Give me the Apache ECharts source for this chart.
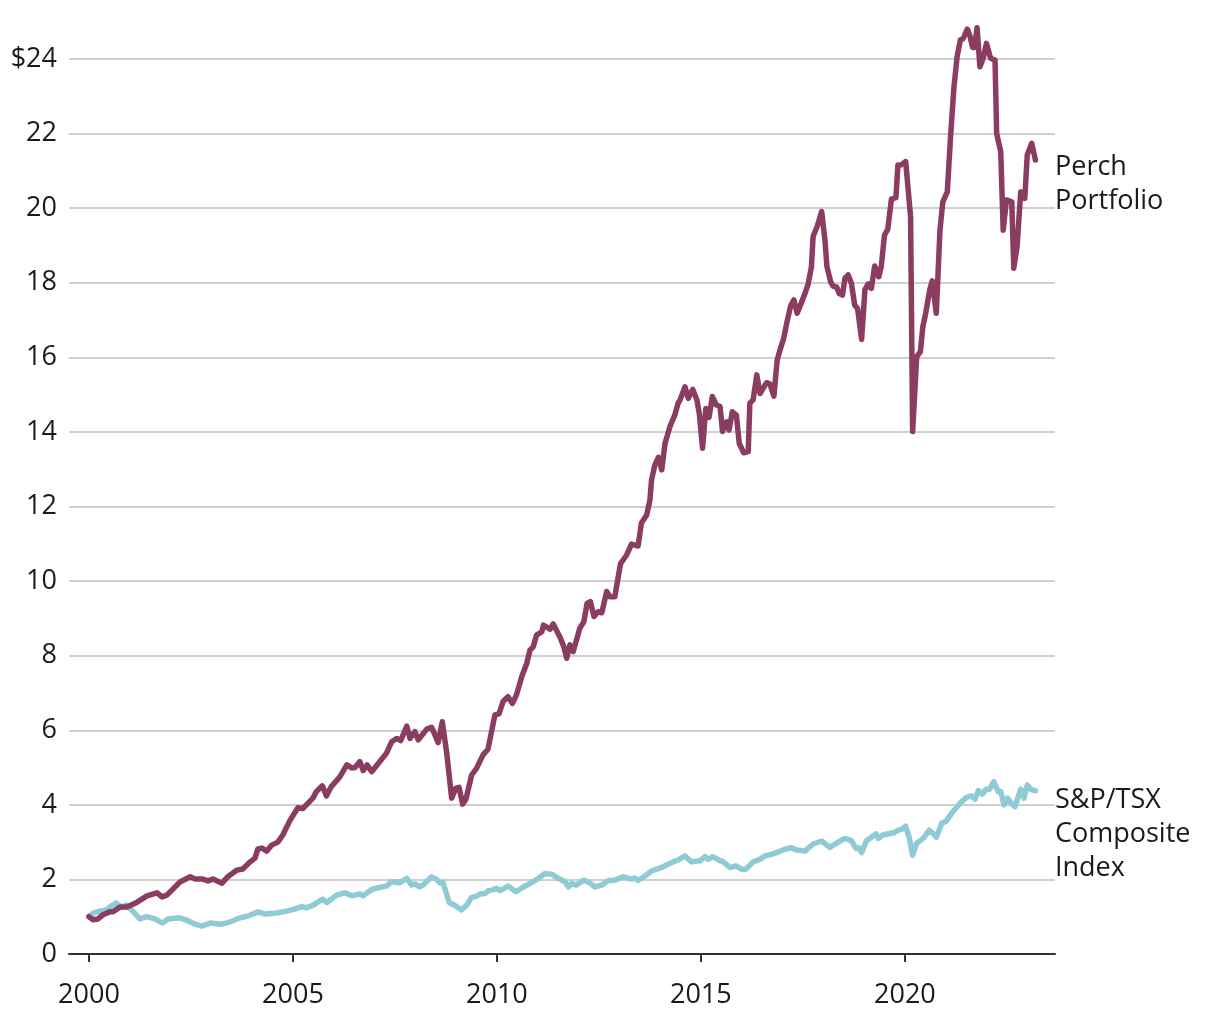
<!DOCTYPE html>
<html>
<head>
<meta charset="utf-8">
<script src="https://cdn.jsdelivr.net/npm/echarts@6/dist/echarts.min.js"></script>
<style>
  html, body { margin: 0; padding: 0; background: #ffffff; }
  #chart { width: 1220px; height: 1020px; }
</style>
</head>
<body>
<div id="chart"></div>
<script>
// Tick labels
const xTickYears = [2000, 2005, 2010, 2015, 2020];
const yTicks = [0, 2, 4, 6, 8, 10, 12, 14, 16, 18, 20, 22, 24];

// Series names
const perchName = 'Perch Portfolio';
const tsxName = 'S&P/TSX Composite Index';

// Growth of $1 — Perch Portfolio (decimal year, value)
const perchYears = [
  2000.00, 2000.10, 2000.22, 2000.34, 2000.51, 2000.59, 2000.76, 2000.93, 2001.18, 2001.42,
  2001.67, 2001.79, 2001.91, 2002.23, 2002.48, 2002.60, 2002.79, 2002.92, 2003.04, 2003.26,
  2003.40, 2003.63, 2003.77, 2003.95, 2004.07, 2004.14, 2004.24, 2004.36, 2004.48, 2004.63,
  2004.75, 2004.93, 2005.12, 2005.24, 2005.49, 2005.57, 2005.72, 2005.82, 2005.94, 2006.15,
  2006.32, 2006.44, 2006.52, 2006.64, 2006.72, 2006.82, 2006.93, 2007.13, 2007.29, 2007.42,
  2007.54, 2007.64, 2007.79, 2007.87, 2007.99, 2008.07, 2008.28, 2008.40, 2008.56, 2008.66,
  2008.77, 2008.89, 2008.99, 2009.07, 2009.16, 2009.24, 2009.38, 2009.50, 2009.66, 2009.78,
  2009.95, 2010.05, 2010.15, 2010.27, 2010.38, 2010.48, 2010.61, 2010.73, 2010.81, 2010.89,
  2010.97, 2011.10, 2011.14, 2011.30, 2011.38, 2011.54, 2011.64, 2011.71, 2011.79, 2011.87,
  2012.03, 2012.13, 2012.21, 2012.29, 2012.38, 2012.48, 2012.57, 2012.69, 2012.77, 2012.89,
  2013.03, 2013.18, 2013.30, 2013.46, 2013.54, 2013.67, 2013.75, 2013.79, 2013.87, 2013.96,
  2014.04, 2014.12, 2014.24, 2014.36, 2014.44, 2014.49, 2014.61, 2014.69, 2014.80, 2014.90,
  2014.96, 2015.04, 2015.12, 2015.20, 2015.28, 2015.38, 2015.47, 2015.53, 2015.63, 2015.69,
  2015.77, 2015.87, 2015.94, 2016.05, 2016.16, 2016.20, 2016.28, 2016.37, 2016.45, 2016.61,
  2016.69, 2016.79, 2016.87, 2016.94, 2017.03, 2017.12, 2017.20, 2017.28, 2017.36, 2017.44,
  2017.55, 2017.63, 2017.71, 2017.75, 2017.85, 2017.96, 2018.04, 2018.09, 2018.18, 2018.24,
  2018.33, 2018.39, 2018.47, 2018.53, 2018.61, 2018.69, 2018.77, 2018.84, 2018.94, 2019.02,
  2019.10, 2019.18, 2019.26, 2019.36, 2019.42, 2019.50, 2019.58, 2019.67, 2019.78, 2019.83,
  2019.91, 2020.02, 2020.14, 2020.19, 2020.29, 2020.38, 2020.44, 2020.51, 2020.61, 2020.67,
  2020.77, 2020.86, 2020.93, 2021.04, 2021.12, 2021.20, 2021.28, 2021.36, 2021.43, 2021.53,
  2021.59, 2021.66, 2021.71, 2021.77, 2021.84, 2021.92, 2022.00, 2022.10, 2022.21, 2022.25,
  2022.35, 2022.41, 2022.49, 2022.62, 2022.67, 2022.75, 2022.84, 2022.94, 2023.00, 2023.11,
  2023.20
];
const perchValues = [
  1.00, 0.92, 0.94, 1.05, 1.13, 1.13, 1.26, 1.26, 1.39, 1.56,
  1.64, 1.53, 1.58, 1.93, 2.07, 2.01, 2.01, 1.96, 2.01, 1.90,
  2.07, 2.25, 2.28, 2.47, 2.57, 2.82, 2.84, 2.76, 2.92, 3.00,
  3.19, 3.59, 3.92, 3.90, 4.18, 4.35, 4.51, 4.24, 4.49, 4.75,
  5.07, 4.99, 5.00, 5.16, 4.92, 5.07, 4.89, 5.16, 5.38, 5.69,
  5.78, 5.72, 6.11, 5.78, 5.96, 5.74, 6.03, 6.08, 5.67, 6.23,
  5.38, 4.18, 4.44, 4.47, 4.02, 4.15, 4.80, 4.98, 5.34, 5.49,
  6.41, 6.44, 6.77, 6.90, 6.72, 6.95, 7.44, 7.79, 8.15, 8.24,
  8.55, 8.64, 8.82, 8.71, 8.85, 8.51, 8.24, 7.93, 8.29, 8.11,
  8.73, 8.91, 9.40, 9.45, 9.05, 9.18, 9.15, 9.72, 9.58, 9.58,
  10.47, 10.70, 10.99, 10.94, 11.55, 11.77, 12.17, 12.71, 13.11, 13.32,
  12.98, 13.69, 14.14, 14.45, 14.77, 14.86, 15.21, 14.90, 15.14, 14.86,
  14.50, 13.56, 14.63, 14.39, 14.95, 14.72, 14.68, 14.01, 14.27, 14.05,
  14.54, 14.45, 13.69, 13.44, 13.47, 14.77, 14.86, 15.53, 15.03, 15.32,
  15.29, 14.96, 15.93, 16.20, 16.51, 17.00, 17.38, 17.54, 17.18, 17.40,
  17.71, 17.97, 18.43, 19.24, 19.51, 19.91, 19.15, 18.43, 18.03, 17.91,
  17.88, 17.71, 17.67, 18.12, 18.21, 17.98, 17.40, 17.31, 16.48, 17.81,
  17.97, 17.85, 18.45, 18.16, 18.43, 19.28, 19.43, 20.24, 20.28, 21.16,
  21.16, 21.25, 19.77, 14.01, 16.02, 16.15, 16.82, 17.18, 17.81, 18.05,
  17.18, 19.41, 20.17, 20.44, 21.92, 23.21, 24.06, 24.51, 24.55, 24.80,
  24.64, 24.31, 24.31, 24.84, 23.79, 24.02, 24.42, 24.02, 23.97, 22.00,
  21.51, 19.41, 20.22, 20.17, 18.39, 18.97, 20.44, 20.26, 21.43, 21.74,
  21.29
];

// Growth of $1 — S&P/TSX Composite Index (decimal year, value)
const tsxYears = [
  2000.00, 2000.11, 2000.27, 2000.43, 2000.51, 2000.66, 2000.80, 2000.92, 2001.09, 2001.25,
  2001.41, 2001.62, 2001.80, 2001.94, 2002.23, 2002.39, 2002.60, 2002.76, 2002.97, 2003.25,
  2003.46, 2003.70, 2003.90, 2004.15, 2004.31, 2004.60, 2004.85, 2005.09, 2005.21, 2005.33,
  2005.50, 2005.62, 2005.73, 2005.83, 2006.07, 2006.27, 2006.44, 2006.64, 2006.72, 2006.93,
  2007.13, 2007.29, 2007.42, 2007.62, 2007.79, 2007.91, 2007.99, 2008.10, 2008.19, 2008.40,
  2008.52, 2008.60, 2008.68, 2008.83, 2008.97, 2009.13, 2009.26, 2009.38, 2009.50, 2009.58,
  2009.71, 2009.79, 2009.90, 2009.99, 2010.07, 2010.28, 2010.47, 2010.64, 2010.89, 2011.05,
  2011.18, 2011.34, 2011.50, 2011.67, 2011.75, 2011.83, 2011.95, 2012.12, 2012.28, 2012.40,
  2012.57, 2012.73, 2012.89, 2013.10, 2013.30, 2013.38, 2013.46, 2013.63, 2013.79, 2014.00,
  2014.16, 2014.32, 2014.44, 2014.61, 2014.77, 2014.98, 2015.10, 2015.18, 2015.29, 2015.47,
  2015.54, 2015.71, 2015.86, 2016.00, 2016.10, 2016.28, 2016.45, 2016.57, 2016.73, 2016.85,
  2017.06, 2017.22, 2017.34, 2017.55, 2017.75, 2017.96, 2018.16, 2018.32, 2018.53, 2018.69,
  2018.80, 2018.87, 2018.94, 2019.06, 2019.18, 2019.29, 2019.35, 2019.45, 2019.63, 2019.73,
  2019.84, 2019.93, 2020.02, 2020.11, 2020.19, 2020.29, 2020.45, 2020.60, 2020.69, 2020.77,
  2020.90, 2021.02, 2021.17, 2021.35, 2021.51, 2021.63, 2021.72, 2021.80, 2021.90, 2021.99,
  2022.08, 2022.18, 2022.29, 2022.35, 2022.43, 2022.52, 2022.61, 2022.70, 2022.84, 2022.92,
  2023.00, 2023.11, 2023.20
];
const tsxValues = [
  1.00, 1.10, 1.15, 1.18, 1.26, 1.37, 1.26, 1.31, 1.13, 0.94,
  1.00, 0.94, 0.83, 0.94, 0.97, 0.91, 0.80, 0.75, 0.83, 0.80,
  0.86, 0.97, 1.02, 1.13, 1.07, 1.10, 1.15, 1.22, 1.27, 1.24,
  1.31, 1.40, 1.47, 1.38, 1.58, 1.64, 1.56, 1.61, 1.56, 1.73,
  1.79, 1.82, 1.94, 1.91, 2.03, 1.85, 1.88, 1.80, 1.85, 2.07,
  2.00, 1.91, 1.91, 1.38, 1.30, 1.18, 1.31, 1.52, 1.55, 1.61,
  1.62, 1.70, 1.72, 1.76, 1.70, 1.82, 1.67, 1.79, 1.94, 2.06,
  2.16, 2.14, 2.03, 1.94, 1.80, 1.89, 1.85, 1.98, 1.91, 1.80,
  1.85, 1.97, 1.98, 2.07, 2.01, 2.04, 1.97, 2.09, 2.23, 2.30,
  2.39, 2.47, 2.52, 2.63, 2.47, 2.50, 2.61, 2.54, 2.61, 2.50,
  2.48, 2.32, 2.36, 2.27, 2.27, 2.47, 2.54, 2.63, 2.67, 2.72,
  2.81, 2.85, 2.79, 2.76, 2.95, 3.03, 2.86, 2.97, 3.10, 3.04,
  2.83, 2.85, 2.72, 3.04, 3.13, 3.22, 3.10, 3.19, 3.23, 3.25,
  3.32, 3.35, 3.43, 3.10, 2.65, 2.97, 3.10, 3.32, 3.23, 3.13,
  3.50, 3.57, 3.81, 4.04, 4.20, 4.24, 4.15, 4.38, 4.29, 4.42,
  4.42, 4.62, 4.35, 4.36, 4.00, 4.18, 4.04, 3.95, 4.42, 4.18,
  4.53, 4.40, 4.38
];

const FONT = '"Open Sans", "Noto Sans", sans-serif';
const TEXT = '#1a1a1a';
const PURPLE = '#8a3d60';
const CYAN = '#8ecbd5';

const chart = echarts.init(document.getElementById('chart'), null, { renderer: 'canvas' });

const zip = (xs, ys) => xs.map((x, i) => [x, ys[i]]);

chart.setOption({
  animation: false,
  backgroundColor: '#ffffff',
  textStyle: { fontFamily: FONT },
  grid: { left: 69, right: 165, top: 59, bottom: 66, containLabel: false },
  xAxis: {
    type: 'value',
    min: 1999.51,
    max: 2023.68,
    splitLine: { show: false },
    axisLine: { show: true, lineStyle: { color: '#333333', width: 2 } },
    axisTick: {
      show: true, customValues: xTickYears, length: 8, inside: false,
      lineStyle: { color: '#333333', width: 2 }
    },
    axisLabel: {
      customValues: xTickYears, fontSize: 27, color: TEXT, margin: 28, fontFamily: FONT,
      formatter: v => String(Math.round(v))
    }
  },
  yAxis: {
    type: 'value',
    min: yTicks[0],
    max: yTicks[yTicks.length - 1],
    interval: 2,
    axisLine: { show: false },
    axisTick: { show: false },
    splitLine: { show: true, lineStyle: { color: '#cfcfcf', width: 2 } },
    axisLabel: {
      fontSize: 27, color: TEXT, margin: 12, fontFamily: FONT,
      formatter: v => (v === 24 ? '$24' : String(v))
    }
  },
  series: [
    {
      name: tsxName, type: 'line', data: zip(tsxYears, tsxValues),
      showSymbol: false, symbol: 'none', smooth: false, clip: false,
      lineStyle: { color: CYAN, width: 5.5, join: 'round', cap: 'round' },
      z: 3
    },
    {
      name: perchName, type: 'line', data: zip(perchYears, perchValues),
      showSymbol: false, symbol: 'none', smooth: false, clip: false,
      lineStyle: { color: PURPLE, width: 5.5, join: 'round', cap: 'round' },
      z: 4
    }
  ],
  graphic: [
    {
      type: 'text', left: 1055, top: 150,
      style: { text: 'Perch\nPortfolio', fontSize: 27, lineHeight: 34, fill: TEXT, fontFamily: FONT }
    },
    {
      type: 'text', left: 1055, top: 783,
      style: { text: 'S&P/TSX\nComposite\nIndex', fontSize: 27, lineHeight: 34, fill: TEXT, fontFamily: FONT }
    }
  ]
});
</script>
</body>
</html>
